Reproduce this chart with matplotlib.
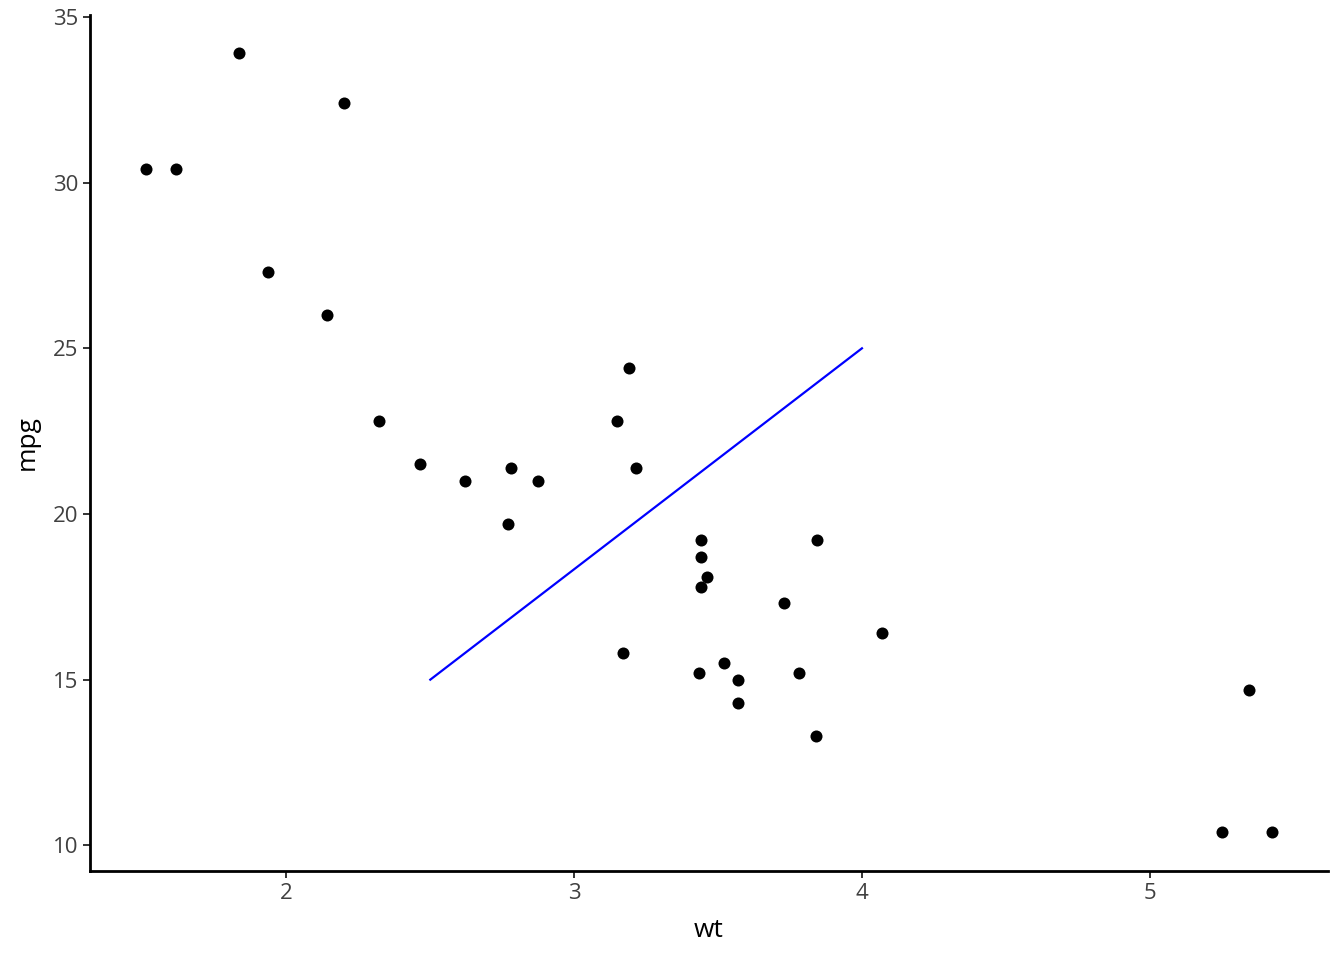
import matplotlib.pyplot as plt

# mtcars weight vs mileage
wt = [2.620, 2.875, 2.320, 3.215, 3.440, 3.460, 3.570, 3.190, 3.150, 3.440,
      3.440, 4.070, 3.730, 3.780, 5.250, 5.424, 5.345, 2.200, 1.615, 1.835,
      2.465, 3.520, 3.435, 3.840, 3.845, 1.935, 2.140, 1.513, 3.170, 2.770,
      3.570, 2.780]
mpg = [21.0, 21.0, 22.8, 21.4, 18.7, 18.1, 14.3, 24.4, 22.8, 19.2,
       17.8, 16.4, 17.3, 15.2, 10.4, 10.4, 14.7, 32.4, 30.4, 33.9,
       21.5, 15.5, 15.2, 13.3, 19.2, 27.3, 26.0, 30.4, 15.8, 19.7,
       15.0, 21.4]

seg_x = [2.5, 4.0]
seg_y = [15, 25]

x_ticks = [2, 3, 4, 5]
y_ticks = [10, 15, 20, 25, 30, 35]

plt.rcParams['font.family'] = ['Open Sans', 'DejaVu Sans']

fig = plt.figure(figsize=(13.44, 9.6), dpi=100)
ax = fig.add_axes([90 / 1344, 89 / 960, 1238 / 1344, (871 - 14.5) / 960])

ax.scatter(wt, mpg, s=75, color='black', linewidths=0, zorder=3)
ax.plot(seg_x, seg_y, color='blue', linewidth=1.6, zorder=2)

xr = max(wt) - min(wt)
yr = max(mpg) - min(mpg)
ax.set_xlim(min(wt) - 0.05 * xr, max(wt) + 0.05 * xr)
ax.set_ylim(min(mpg) - 0.05 * yr, max(mpg) + 0.05 * yr)

ax.set_xticks(x_ticks)
ax.set_yticks(y_ticks)
ax.tick_params(axis='both', length=5, width=1.4, color='#333333',
               labelsize=16, labelcolor='#404040', pad=3.5)

for side in ['top', 'right']:
    ax.spines[side].set_visible(False)
for side in ['left', 'bottom']:
    ax.spines[side].set_linewidth(2)
    ax.spines[side].set_color('black')

ax.set_xlabel('wt', fontsize=19, color='black', labelpad=10)
ax.set_ylabel('mpg', fontsize=19, color='black', labelpad=9)

fig.savefig('out.png', dpi=100)
